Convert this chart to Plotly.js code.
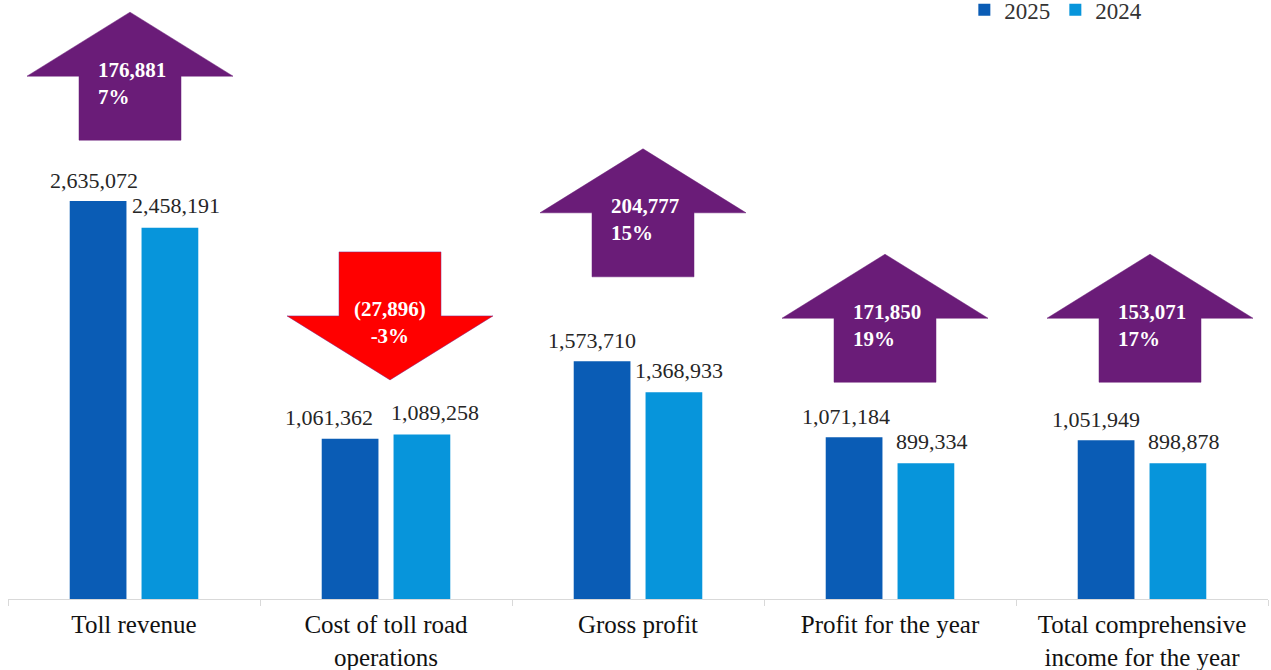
<!DOCTYPE html>
<html>
<head>
<meta charset="utf-8">
<script src="https://cdn.plot.ly/plotly-3.0.1.min.js"></script>
<style>html,body{margin:0;padding:0;background:#fff;}#chart{width:1271px;height:670px;}</style>
</head>
<body>
<div id="chart"></div>
<script>
// ---- data ----
const categories = ["Toll revenue", "Cost of toll road<br>operations", "Gross profit", "Profit for the year", "Total comprehensive<br>income for the year"];
const values2025 = [2635072, 1061362, 1573710, 1071184, 1051949];
const values2024 = [2458191, 1089258, 1368933, 899334, 898878];
const changeLabels = ["176,881", "(27,896)", "204,777", "171,850", "153,071"];
const changePct = ["7%", "-3%", "15%", "19%", "17%"];
const seriesNames = ["2025", "2024"];

// ---- style ----
const FONT = "Liberation Serif, Times New Roman, serif";
const C2025 = "#0A5CB5";
const C2024 = "#0795DB";
const PURPLE = "#6A1C78";
const RED = "#FF0000";
// arrow placement (paper y of the arrow's lower end, x pixel nudge)
const arrowBaseY = [0.779, 0.372, 0.547, 0.368, 0.368];
const arrowDX = [-4, 4, 5, -5, 8];
// value-label horizontal nudges (pixels)
const labelDX2025 = [-40, -57, -46, -44, -46];
const labelDX2024 = [42, 49, 41, 42, 42];

function fmt(v) { return v.toLocaleString("en-US"); }

const traces = [
  { type: "bar", name: seriesNames[0], x: categories, y: values2025, marker: { color: C2025 }, hoverinfo: "none" },
  { type: "bar", name: seriesNames[1], x: categories, y: values2024, marker: { color: C2024 }, hoverinfo: "none" }
];

const shapes = [];
const annotations = [];

categories.forEach((c, i) => {
  // value labels
  annotations.push({ x: c, y: values2025[i], xref: "x", yref: "y", text: fmt(values2025[i]), showarrow: false,
    xshift: labelDX2025[i], yshift: 21, yanchor: "middle", font: { family: FONT, size: 22, color: "#262626" } });
  annotations.push({ x: c, y: values2024[i], xref: "x", yref: "y", text: fmt(values2024[i]), showarrow: false,
    xshift: labelDX2024[i], yshift: 22, yanchor: "middle", font: { family: FONT, size: 22, color: "#262626" } });

  const d = values2025[i] - values2024[i];
  const up = d >= 0;
  const dx = arrowDX[i];
  const p = (x, y) => (x + dx) + "," + y;
  let path;
  if (up) {
    path = "M" + p(-51, 0) + " L" + p(51, 0) + " L" + p(51, 64) + " L" + p(103, 64) + " L" + p(0, 128) +
           " L" + p(-103, 64) + " L" + p(-51, 64) + " Z";
  } else {
    path = "M" + p(0, 0) + " L" + p(103, 64) + " L" + p(51, 64) + " L" + p(51, 128) + " L" + p(-51, 128) +
           " L" + p(-51, 64) + " L" + p(-103, 64) + " Z";
  }
  shapes.push({ type: "path", xref: "x", yref: "paper", xsizemode: "pixel", ysizemode: "pixel",
    xanchor: c, yanchor: arrowBaseY[i], path: path,
    fillcolor: up ? PURPLE : RED, line: { color: up ? PURPLE : "#7a2a8a", width: 0.5 } });

  annotations.push({ x: c, y: arrowBaseY[i], xref: "x", yref: "paper", xshift: dx + (up ? 2 : 0), yshift: 57,
    text: "<b>" + changeLabels[i] + "<br>" + changePct[i] + "</b>", showarrow: false,
    align: up ? "left" : "center", xanchor: "center", yanchor: "middle",
    font: { family: FONT, size: 21, color: "#ffffff" } });
});

const layout = {
  width: 1271, height: 670,
  margin: { l: 8, r: 3, t: 10, b: 71, autoexpand: false },
  paper_bgcolor: "#ffffff", plot_bgcolor: "#ffffff",
  barmode: "group", bargap: 0.43, bargroupgap: 0.21,
  font: { family: FONT, color: "#000" },
  xaxis: {
    type: "category", showline: true, linecolor: "#d9d9d9", linewidth: 1,
    ticks: "outside", tickson: "boundaries", ticklen: 6, tickcolor: "#d9d9d9",
    tickfont: { family: FONT, size: 25, color: "#111" }, showgrid: false, ticklabelstandoff: 3
  },
  yaxis: { visible: false, range: [0, 3900000], showgrid: false, zeroline: false },
  showlegend: true,
  legend: { orientation: "h", x: 0.759, xanchor: "left", y: 1.037, yanchor: "top",
    font: { family: FONT, size: 23, color: "#333" }, itemwidth: 30, traceorder: "normal" },
  shapes: shapes,
  annotations: annotations
};

Plotly.newPlot("chart", traces, layout, { displayModeBar: false, staticPlot: true });
</script>
</body>
</html>
